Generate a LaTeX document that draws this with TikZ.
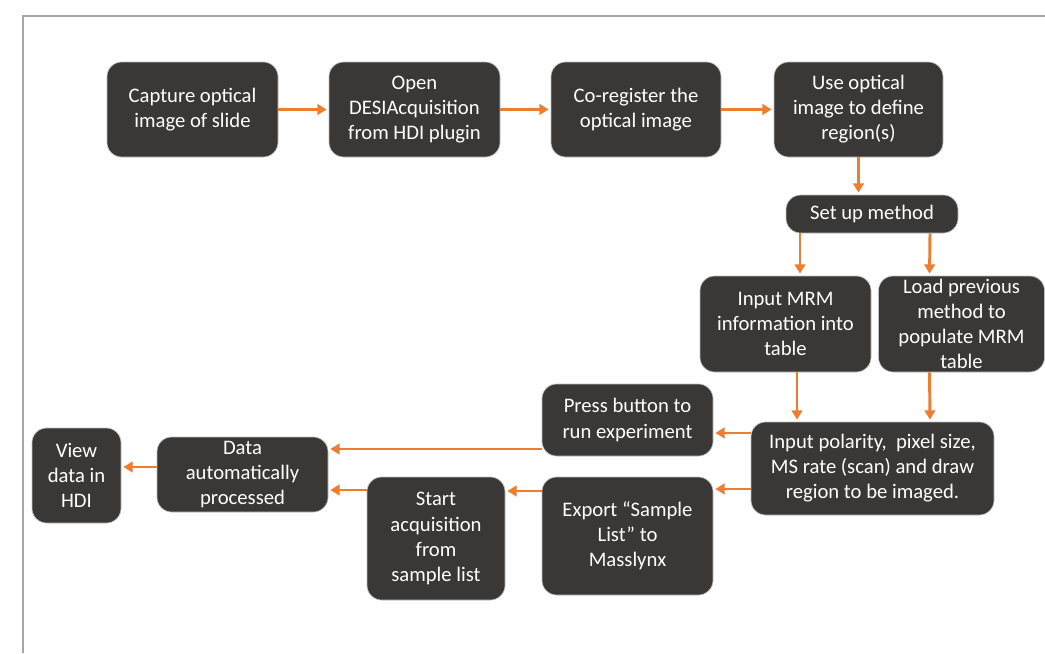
\documentclass[tikz,border=0pt]{standalone}
\usepackage{fontspec}
\setmainfont{Carlito}
\usetikzlibrary{arrows.meta}
\definecolor{boxgray}{RGB}{58,56,54}
\definecolor{flowor}{RGB}{237,125,49}

\begin{document}
\begin{tikzpicture}[x=0.75pt,y=-0.75pt,
  box/.style 2 args={draw=black!25,line width=0.5pt,fill=boxgray,rounded corners=11pt,
    text=white,align=center,inner sep=0pt,minimum width=#1*0.75pt,minimum height=#2*0.75pt,
    font=\fontsize{15.5}{18.8}\selectfont},
  flow/.style={draw=flowor,line width=2.2pt,-{Triangle[length=7pt,width=8pt]},shorten >=1.5pt}]
\useasboundingbox (0,0) rectangle (1045,653);
\draw[gray!70,line width=1.6pt] (1045,16) -- (23,16) -- (23,653);
% top row
\node[box={171}{95}] (cap) at (192.5,109.5) {Capture optical\\image of slide};
\node[box={171}{95}] (open) at (414.5,109.5) {Open\\DESIAcquisition\\from HDI plugin};
\node[box={170}{95}] (coreg) at (636,109.5) {Co-register the\\optical image};
\node[box={169}{95}] (use) at (858.5,109.5) {Use optical\\image to define\\region(s)};
% method
\node[box={172}{38}] (set) at (872,214) {Set up method};
\node[box={171}{96}] (mrm) at (785.5,324) {Input MRM\\information into\\table};
\node[box={166}{96}] (load) at (961.5,324) {Load previous\\method to\\populate MRM\\table};
\node[box={243}{93}] (poly) at (872.5,468.5) {Input polarity,~~pixel size,\\MS rate (scan) and draw\\region to be imaged.};
% bottom rows
\node[box={171}{72}] (press) at (627.5,420) {Press button to\\run experiment};
\node[box={171}{118}] (export) at (627.5,536) {Export “Sample\\List” to\\Masslynx};
\node[box={138}{123}] (start) at (436,538.5) {Start\\acquisition\\from\\sample list};
\node[box={171}{75}] (data) at (242.5,474.5) {Data\\automatically\\processed};
\node[box={89}{95}] (view) at (76.5,475.5) {View\\data in\\HDI};
% connectors
\draw[flow] (cap) -- (open);
\draw[flow] (open) -- (coreg);
\draw[flow] (coreg) -- (use);
\draw[flow] (use.south) -- (use.south |- set.north);
\draw[flow] ([xshift=-54pt]set.south) -- ([xshift=10.875pt]mrm.north);
\draw[flow] ([xshift=43.5pt]set.south) -- ([xshift=-24pt]load.north);
\draw[flow] ([xshift=8.625pt]mrm.south) -- ([xshift=-56.625pt]poly.north);
\draw[flow] ([xshift=-24pt]load.south) -- ([xshift=43.125pt]poly.north);
\draw[flow] ([yshift=26.625pt]poly.west) -- ([yshift=-9.75pt]press.east);
\draw[flow] ([yshift=-15.375pt]poly.west) -- ([yshift=35.25pt]export.east);
\draw[flow] ([yshift=-21.75pt]press.west) -- ([yshift=19.125pt]data.east);
\draw[flow] ([yshift=33.75pt]export.west) -- ([yshift=35.625pt]start.east);
\draw[flow] ([yshift=36.375pt]start.west) -- ([yshift=-11.625pt]data.east);
\draw[flow] ([yshift=5.625pt]data.west) -- ([yshift=6.375pt]view.east);
\end{tikzpicture}
\end{document}
